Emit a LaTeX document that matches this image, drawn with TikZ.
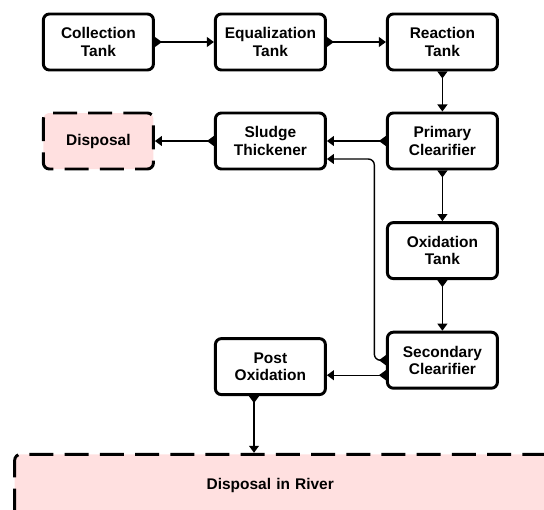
\documentclass[tikz,border=0pt]{standalone}
\usepackage{fontspec}
\setmainfont{Liberation Sans}
\usetikzlibrary{arrows.meta}
\definecolor{sinkpink}{HTML}{FFE0E0}
\tikzstyle{tank} = [rectangle, rounded corners=0.15cm, minimum width=2.75cm, minimum height=1.4cm, text centered, align=center, draw=black, line width=2.1pt, fill=white, font=\bfseries\fontsize{11}{12.4}\selectfont]
\tikzstyle{sink} = [tank, dash pattern=on 0.6cm off 0.28cm, fill=sinkpink]
\tikzstyle{arrow} = [line width=1pt, {Triangle[reversed, length=5pt, width=7pt]}-{Triangle[length=5pt, width=7pt]}]

\begin{document}
\begin{tikzpicture}[node distance=4.3cm]
	\useasboundingbox (0,0) rectangle (13.6,-12.725);
	\clip (0,0) rectangle (13.6,-12.725);

	\node (collect) [tank] at (2.46,-1.05) {Collection\\Tank};
	\node (equal) [tank, right of=collect] {Equalization\\Tank};
	\node (react) [tank, right of=equal] {Reaction\\Tank};

	\node (primary) [tank, node distance=2.475cm, below of=react] {Primary\\Clearifier};
	\node (sludge) [tank, left of=primary] {Sludge\\Thickener};
	\node (disposal) [sink, left of=sludge] {Disposal};

	\node (oxid) [tank, node distance=2.74cm, below of=primary] {Oxidation\\Tank};
	\node (secondary) [tank, node distance=2.74cm, below of=oxid] {Secondary\\Clearifier};
	\node (post) [tank, left of=secondary, yshift=-0.16cm] {Post\\Oxidation};

	% wide basin, runs past the right edge
	\node (river) [sink, anchor=north west, minimum height=1.55cm, inner xsep=4.8cm, text width=10cm, align=left] at (0.33,-11.32) {Disposal in River};

	\draw[arrow] (collect) -- (equal);
	\draw[arrow] (equal) -- (react);
	\draw[arrow] (react) -- (primary);
	\draw[arrow] (primary) -- (sludge);
	\draw[arrow] (sludge) -- (disposal);
	\draw[arrow] (primary) -- (oxid);
	\draw[arrow] (oxid) -- (secondary);
	\draw[arrow, rounded corners=0.15cm] (secondary.west) -- ++(-0.29,0) |- ([yshift=-0.45cm]sludge.east);
	\draw[arrow] ([yshift=-0.375cm]secondary.west) -- ([yshift=-0.375cm]secondary.west -| post.east);
	\draw[arrow] ([xshift=-0.41cm]post.south) -- ([xshift=-0.41cm]post.south |- river.north);
\end{tikzpicture}
\end{document}
